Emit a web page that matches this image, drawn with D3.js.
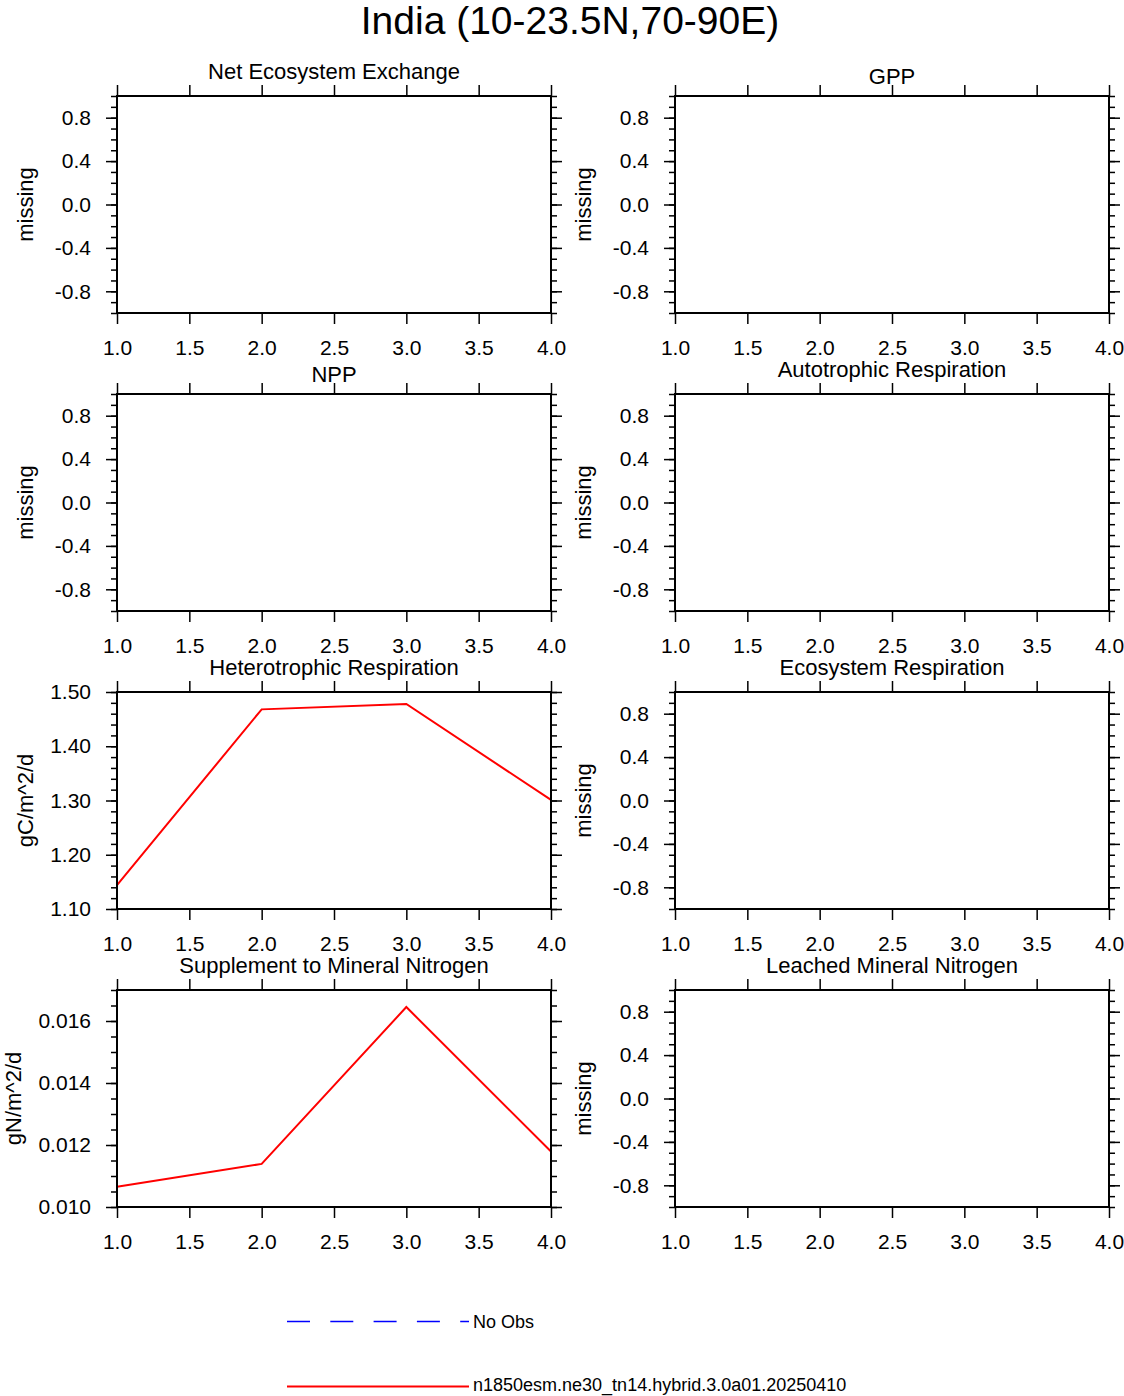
<!DOCTYPE html>
<html>
<head>
<meta charset="utf-8">
<script src="https://cdn.jsdelivr.net/npm/d3@7"></script>
<style>
  html, body { margin: 0; padding: 0; background: #fff; }
  svg { display: block; font-family: "Liberation Sans", Arial, Helvetica, sans-serif; }
</style>
</head>
<body>
<svg id="chart" width="1124" height="1396"></svg>
<script>
// ---------------- data ----------------
const mainTitle = "India (10-23.5N,70-90E)";
const panelTitles = [
  "Net Ecosystem Exchange", "GPP",
  "NPP", "Autotrophic Respiration",
  "Heterotrophic Respiration", "Ecosystem Respiration",
  "Supplement to Mineral Nitrogen", "Leached Mineral Nitrogen"
];
const panelUnits = [
  "missing", "missing",
  "missing", "missing",
  "gC/m^2/d", "missing",
  "gN/m^2/d", "missing"
];
const xValues = [1, 2, 3, 4];
const xTicks = [1.0, 1.5, 2.0, 2.5, 3.0, 3.5, 4.0];
const heteroRespValues = [1.144, 1.468, 1.478, 1.301];
const supplementNValues = [0.01065, 0.01139, 0.01645, 0.01179];
const panelValues = [null, null, null, null, heteroRespValues, null, supplementNValues, null];

const emptyYDomain = [-1.0, 1.0];
const emptyYTicks = [-0.8, -0.4, 0.0, 0.4, 0.8];
const heteroYDomain = [1.10, 1.50];
const heteroYTicks = [1.10, 1.20, 1.30, 1.40, 1.50];
const supplementYDomain = [0.010, 0.017];
const supplementYTicks = [0.010, 0.012, 0.014, 0.016];

const legendLabels = ["No Obs", "n1850esm.ne30_tn14.hybrid.3.0a01.20250410"];
const legendColors = ["#0000ff", "#ff0000"];

// ---------------- layout ----------------
const svg = d3.select("#chart");
const colX = [117, 675];
const rowY = [96, 394, 692, 990];
const pw = 434, ph = 217;
const majorLen = 11, minorLen = 6;

const fmtHyphen = spec => { const f = d3.format(spec); return v => f(v).replace("\u2212", "-"); };

function yConfig(i) {
  if (i === 4) return { domain: heteroYDomain, ticks: heteroYTicks, fmt: fmtHyphen(".2f"),
    minors: d3.range(55, 76).map(k => k * 0.02), labelOff: 84 };
  if (i === 6) return { domain: supplementYDomain, ticks: supplementYTicks, fmt: fmtHyphen(".3f"),
    minors: d3.range(20, 35).map(k => k * 0.0005), labelOff: 96 };
  return { domain: emptyYDomain, ticks: emptyYTicks, fmt: fmtHyphen(".1f"),
    minors: d3.range(-10, 11).map(k => k / 10), labelOff: 84 };
}

svg.append("text")
  .attr("x", 570).attr("y", 34)
  .attr("text-anchor", "middle")
  .attr("font-size", 39)
  .text(mainTitle);

panelTitles.forEach((title, i) => {
  const col = i % 2, row = Math.floor(i / 2);
  const x0 = colX[col], y0 = rowY[row];
  const cfg = yConfig(i);
  const g = svg.append("g").attr("transform", `translate(${x0},${y0})`);

  const x = d3.scaleLinear().domain([1, 4]).range([0, pw]);
  const y = d3.scaleLinear().domain(cfg.domain).range([ph, 0]);

  const styleAxis = sel => {
    sel.select(".domain").remove();
    sel.selectAll(".tick line").attr("stroke", "#000").attr("stroke-width", 1.5);
    sel.selectAll(".tick text").attr("fill", "#000");
  };

  // bottom axis
  g.append("g").attr("transform", `translate(0,${ph})`)
    .call(d3.axisBottom(x).tickValues(xTicks).tickSize(majorLen).tickPadding(16)
      .tickFormat(fmtHyphen(".1f")))
    .call(styleAxis)
    .selectAll("text").attr("font-size", 21).attr("font-family", null);
  // top axis
  g.append("g")
    .call(d3.axisTop(x).tickValues(xTicks).tickSize(majorLen).tickFormat(""))
    .call(styleAxis);
  // left minors / majors
  g.append("g")
    .call(d3.axisLeft(y).tickValues(cfg.minors).tickSize(minorLen).tickFormat(""))
    .call(styleAxis);
  g.append("g")
    .call(d3.axisLeft(y).tickValues(cfg.ticks).tickSize(majorLen).tickPadding(15).tickFormat(cfg.fmt))
    .call(styleAxis)
    .selectAll("text").attr("font-size", 21).attr("font-family", null);
  // right minors / majors
  g.append("g").attr("transform", `translate(${pw},0)`)
    .call(d3.axisRight(y).tickValues(cfg.minors).tickSize(minorLen).tickFormat(""))
    .call(styleAxis);
  g.append("g").attr("transform", `translate(${pw},0)`)
    .call(d3.axisRight(y).tickValues(cfg.ticks).tickSize(majorLen).tickFormat(""))
    .call(styleAxis);

  // data line
  const vals = panelValues[i];
  if (vals) {
    g.append("path")
      .datum(xValues.map((xv, k) => [xv, vals[k]]))
      .attr("fill", "none")
      .attr("stroke", "#ff0000")
      .attr("stroke-width", 2)
      .attr("d", d3.line().x(d => x(d[0])).y(d => y(d[1])));
  }

  // frame
  g.append("rect").attr("x", 0).attr("y", 0).attr("width", pw).attr("height", ph)
    .attr("fill", "none").attr("stroke", "#000").attr("stroke-width", 2);

  // title
  const hasDesc = /[gjpqy]/.test(title);
  g.append("text")
    .attr("x", pw / 2).attr("y", hasDesc ? -17 : -12)
    .attr("text-anchor", "middle")
    .attr("font-size", 22)
    .text(title);

  // y label
  g.append("text")
    .attr("transform", `translate(${-cfg.labelOff},${ph / 2}) rotate(-90)`)
    .attr("text-anchor", "middle")
    .attr("font-size", 22)
    .text(panelUnits[i]);
});

// legend
const legY = [1321.5, 1386.5];
const legTextY = [1327.5, 1390.5];
legendLabels.forEach((lab, k) => {
  svg.append("line")
    .attr("x1", 287).attr("x2", 469)
    .attr("y1", legY[k]).attr("y2", legY[k])
    .attr("stroke", legendColors[k])
    .attr("stroke-width", k === 0 ? 1.5 : 2)
    .attr("stroke-dasharray", k === 0 ? "23,20.3" : null);
  svg.append("text")
    .attr("x", 473).attr("y", legTextY[k])
    .attr("font-size", 18)
    .text(lab);
});
</script>
</body>
</html>
